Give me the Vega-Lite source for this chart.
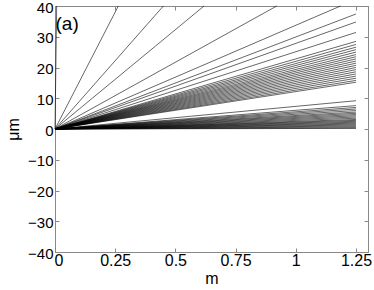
{
  "$schema": "https://vega.github.io/schema/vega-lite/v6.json",
  "width": 313,
  "height": 246,
  "autosize": {"type": "none"},
  "padding": {"left": 55, "top": 6, "right": 6, "bottom": 38},
  "config": {
    "view": {"stroke": "#888888", "strokeWidth": 1},
    "font": "Liberation Sans",
    "axis": {
      "domainColor": "#888888",
      "tickColor": "#888888",
      "tickSize": -4,
      "grid": false,
      "labelFont": "Liberation Sans",
      "labelFontSize": 16,
      "labelColor": "#000000",
      "titleFont": "Liberation Sans",
      "titleFontSize": 16,
      "titleFontWeight": "normal",
      "titleColor": "#000000"
    }
  },
  "datasets": {
    "lines": [
      {"id": 1, "m": 0, "um": 0}, {"id": 1, "m": 0.007, "um": 40},
      {"id": 2, "m": 0, "um": 0}, {"id": 2, "m": 0.263, "um": 40},
      {"id": 3, "m": 0, "um": 0}, {"id": 3, "m": 0.45, "um": 40},
      {"id": 4, "m": 0, "um": 0}, {"id": 4, "m": 0.619, "um": 40},
      {"id": 5, "m": 0, "um": 0}, {"id": 5, "m": 0.921, "um": 40},
      {"id": 6, "m": 0, "um": 0}, {"id": 6, "m": 1.186, "um": 40},
      {"id": 7, "m": 0, "um": 0}, {"id": 7, "m": 1.25, "um": 37.4},
      {"id": 8, "m": 0, "um": 0}, {"id": 8, "m": 1.25, "um": 34.8},
      {"id": 9, "m": 0, "um": 0}, {"id": 9, "m": 1.25, "um": 31.4},
      {"id": 10, "m": 0, "um": 0}, {"id": 10, "m": 1.25, "um": 28.5},
      {"id": 11, "m": 0, "um": 0}, {"id": 11, "m": 1.25, "um": 27.5},
      {"id": 12, "m": 0, "um": 0}, {"id": 12, "m": 1.25, "um": 26.6},
      {"id": 13, "m": 0, "um": 0}, {"id": 13, "m": 1.25, "um": 25.8},
      {"id": 14, "m": 0, "um": 0}, {"id": 14, "m": 1.25, "um": 25.0},
      {"id": 15, "m": 0, "um": 0}, {"id": 15, "m": 1.25, "um": 24.2},
      {"id": 16, "m": 0, "um": 0}, {"id": 16, "m": 1.25, "um": 23.5},
      {"id": 17, "m": 0, "um": 0}, {"id": 17, "m": 1.25, "um": 22.8},
      {"id": 18, "m": 0, "um": 0}, {"id": 18, "m": 1.25, "um": 22.1},
      {"id": 19, "m": 0, "um": 0}, {"id": 19, "m": 1.25, "um": 21.4},
      {"id": 20, "m": 0, "um": 0}, {"id": 20, "m": 1.25, "um": 20.7},
      {"id": 21, "m": 0, "um": 0}, {"id": 21, "m": 1.25, "um": 20.0},
      {"id": 22, "m": 0, "um": 0}, {"id": 22, "m": 1.25, "um": 19.3},
      {"id": 23, "m": 0, "um": 0}, {"id": 23, "m": 1.25, "um": 18.6},
      {"id": 24, "m": 0, "um": 0}, {"id": 24, "m": 1.25, "um": 17.9},
      {"id": 25, "m": 0, "um": 0}, {"id": 25, "m": 1.25, "um": 17.2},
      {"id": 26, "m": 0, "um": 0}, {"id": 26, "m": 1.25, "um": 16.5},
      {"id": 27, "m": 0, "um": 0}, {"id": 27, "m": 1.25, "um": 15.8},
      {"id": 28, "m": 0, "um": 0}, {"id": 28, "m": 1.25, "um": 15.2},
      {"id": 29, "m": 0, "um": 0}, {"id": 29, "m": 1.25, "um": 9.2},
      {"id": 30, "m": 0, "um": 0}, {"id": 30, "m": 1.25, "um": 7.6},
      {"id": 31, "m": 0, "um": 0}, {"id": 31, "m": 1.25, "um": 7.0},
      {"id": 32, "m": 0, "um": 0}, {"id": 32, "m": 1.25, "um": 6.5},
      {"id": 33, "m": 0, "um": 0}, {"id": 33, "m": 1.25, "um": 6.0},
      {"id": 34, "m": 0, "um": 0}, {"id": 34, "m": 1.25, "um": 5.5},
      {"id": 35, "m": 0, "um": 0}, {"id": 35, "m": 1.25, "um": 5.1},
      {"id": 36, "m": 0, "um": 0}, {"id": 36, "m": 1.25, "um": 4.7},
      {"id": 37, "m": 0, "um": 0}, {"id": 37, "m": 1.25, "um": 4.3},
      {"id": 38, "m": 0, "um": 0}, {"id": 38, "m": 1.25, "um": 3.9},
      {"id": 39, "m": 0, "um": 0}, {"id": 39, "m": 1.25, "um": 3.5},
      {"id": 40, "m": 0, "um": 0}, {"id": 40, "m": 1.25, "um": 3.1},
      {"id": 41, "m": 0, "um": 0}, {"id": 41, "m": 1.25, "um": 2.8},
      {"id": 42, "m": 0, "um": 0}, {"id": 42, "m": 1.25, "um": 2.5},
      {"id": 43, "m": 0, "um": 0}, {"id": 43, "m": 1.25, "um": 2.2},
      {"id": 44, "m": 0, "um": 0}, {"id": 44, "m": 1.25, "um": 1.9},
      {"id": 45, "m": 0, "um": 0}, {"id": 45, "m": 1.25, "um": 1.6},
      {"id": 46, "m": 0, "um": 0}, {"id": 46, "m": 1.25, "um": 1.3},
      {"id": 47, "m": 0, "um": 0}, {"id": 47, "m": 1.25, "um": 1.0},
      {"id": 48, "m": 0, "um": 0}, {"id": 48, "m": 1.25, "um": 0.7},
      {"id": 49, "m": 0, "um": 0}, {"id": 49, "m": 1.25, "um": 0.4},
      {"id": 50, "m": 0, "um": 0}, {"id": 50, "m": 1.25, "um": 0.2}
    ]
  },
  "resolve": {"axis": {"x": "independent", "y": "independent"}},
  "layer": [
    {
      "data": {"name": "lines"},
      "mark": {"type": "line", "color": "#000000", "strokeWidth": 0.6},
      "encoding": {
        "x": {
          "field": "m", "type": "quantitative",
          "scale": {"domain": [0, 1.3], "nice": false, "zero": false},
          "axis": {
            "orient": "bottom", "title": "m",
            "values": [0, 0.25, 0.5, 0.75, 1, 1.25],
            "labelExpr": "datum.value",
            "labelAlign": {"condition": {"test": "datum.value == 0", "value": "left"}, "value": "center"},
            "labelOffset": {"condition": {"test": "datum.value == 0", "value": -1}, "value": 0},
            "labelPadding": 4, "labelFlush": false, "titlePadding": 2
          }
        },
        "y": {
          "field": "um", "type": "quantitative",
          "scale": {"domain": [-40, 40], "nice": false},
          "axis": {
            "orient": "left", "title": "μm",
            "values": [-40, -30, -20, -10, 0, 10, 20, 30, 40],
            "labelFontSize": 15,
            "labelPadding": 6, "labelOffset": 1, "labelFlush": false, "titlePadding": 6
          }
        },
        "detail": {"field": "id", "type": "nominal"},
        "order": {"field": "m", "type": "quantitative"}
      }
    },
    {
      "data": {"name": "lines"},
      "mark": {"type": "point", "opacity": 0},
      "encoding": {
        "x": {
          "field": "m", "type": "quantitative",
          "scale": {"domain": [0, 1.3], "nice": false, "zero": false},
          "axis": {
            "orient": "top", "title": null, "labels": false,
            "values": [0, 0.25, 0.5, 0.75, 1, 1.25]
          }
        },
        "y": {
          "field": "um", "type": "quantitative",
          "scale": {"domain": [-40, 40], "nice": false},
          "axis": {
            "orient": "right", "title": null, "labels": false,
            "values": [-40, -30, -20, -10, 0, 10, 20, 30, 40]
          }
        }
      }
    },
    {
      "data": {"values": [{"label": "(a)"}]},
      "mark": {"type": "text", "align": "left", "baseline": "top", "fontSize": 19, "font": "Liberation Sans", "color": "#000000"},
      "encoding": {
        "text": {"field": "label", "type": "nominal"},
        "x": {"datum": 0.002, "type": "quantitative", "axis": null},
        "y": {"datum": 37.0, "type": "quantitative", "axis": null}
      }
    }
  ]
}
